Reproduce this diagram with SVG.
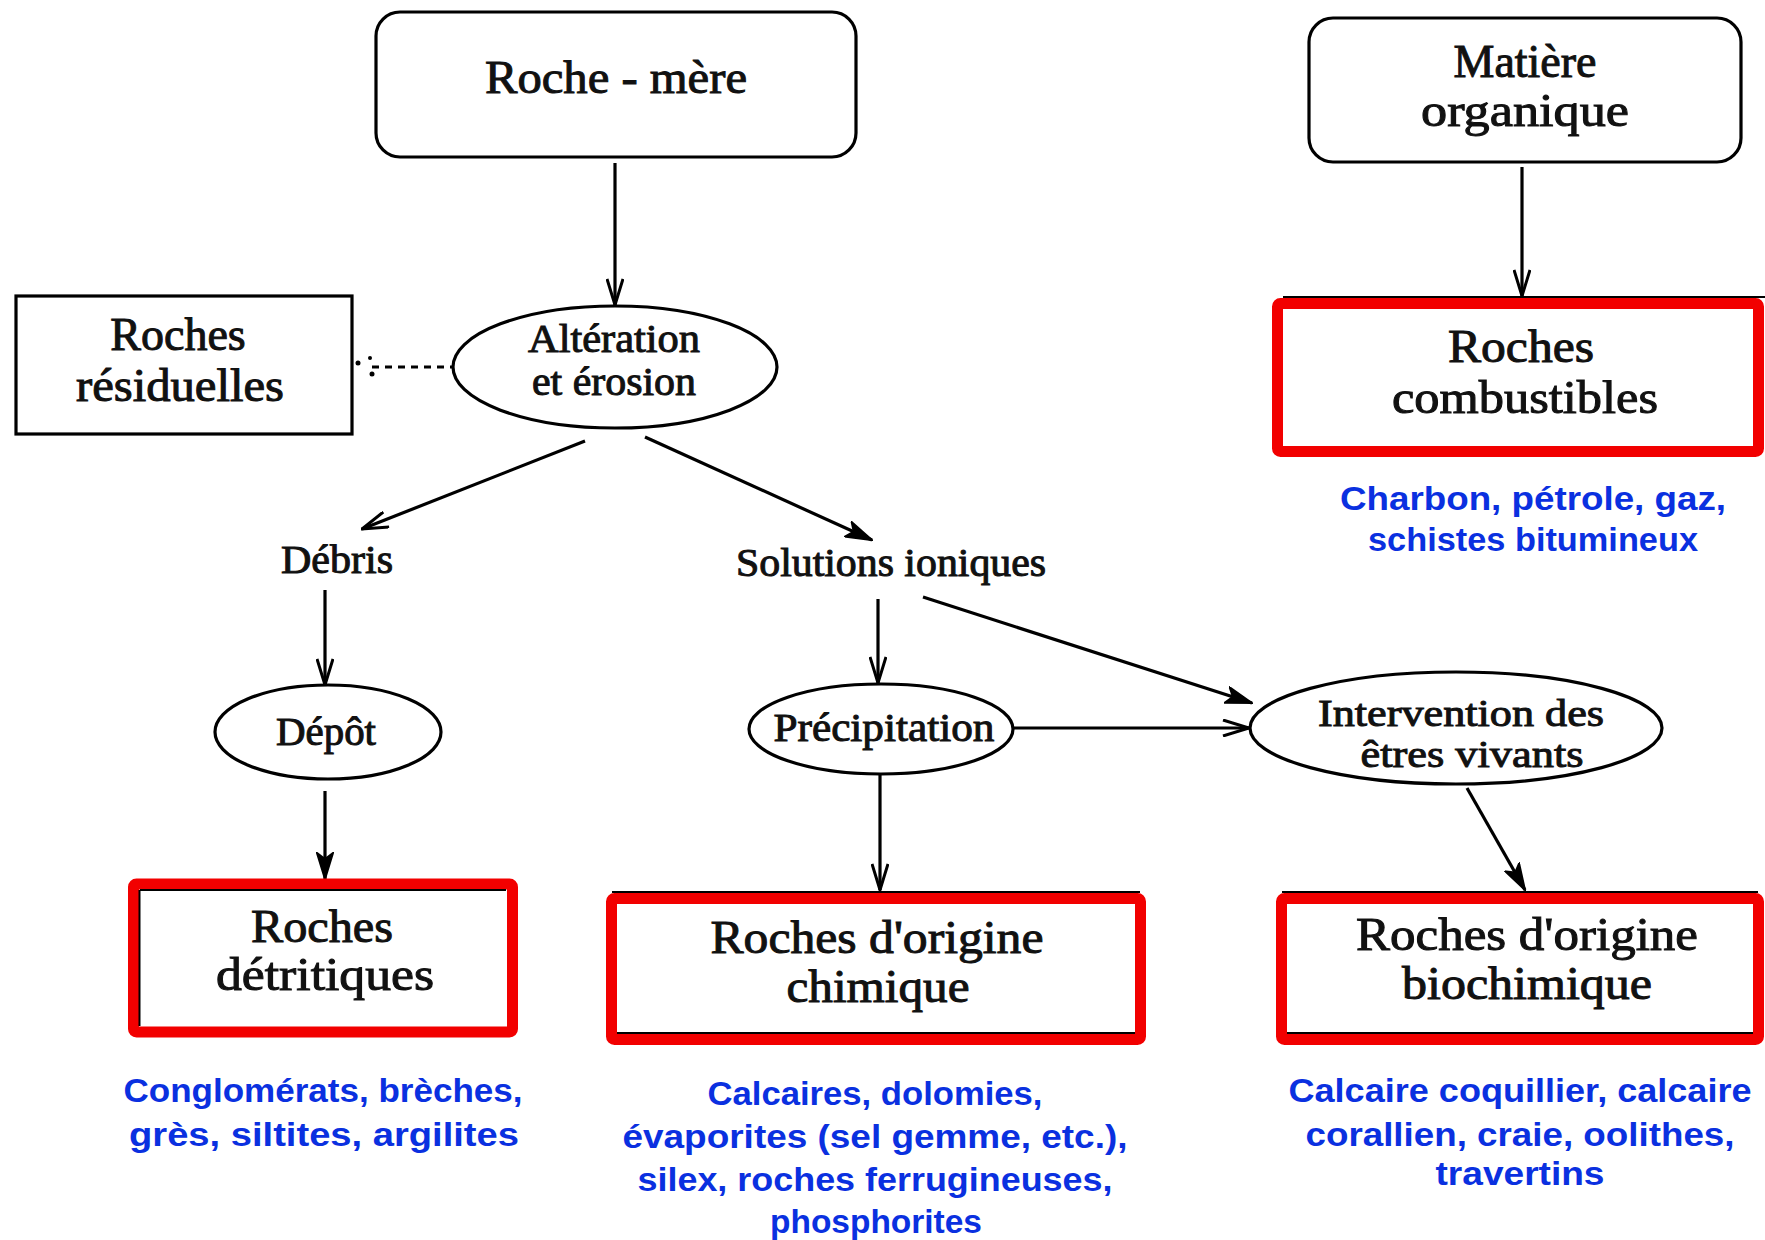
<svg xmlns="http://www.w3.org/2000/svg" width="1765" height="1240" viewBox="0 0 1765 1240">
<style>
.bx{fill:#fff;stroke:#000;stroke-width:3.2}
.el{fill:#fff;stroke:#000;stroke-width:3.2}
.red{fill:#fff;stroke:#f20000;stroke-width:11;stroke-linejoin:round}
.blk{stroke:#000;stroke-width:2;fill:none}
.t{font-family:"Liberation Serif","Times New Roman",serif;fill:#111;text-anchor:middle;stroke:#111;stroke-width:1}
.big{font-size:46px}
.sm{font-size:40px}
.bl{font-family:"Liberation Sans",Arial,sans-serif;font-weight:bold;font-size:33px;fill:#0a30e0;text-anchor:middle}
.ln{stroke:#000;stroke-width:3.2;fill:none}
</style>
<defs>
<marker id="v" viewBox="0 0 28 18" refX="27" refY="9" markerWidth="28" markerHeight="18" markerUnits="userSpaceOnUse" orient="auto">
<path d="M1,1 L27,9 L1,17" fill="none" stroke="#000" stroke-width="3"/>
</marker>
<marker id="f" viewBox="0 0 28 18" refX="27" refY="9" markerWidth="28" markerHeight="18" markerUnits="userSpaceOnUse" orient="auto">
<path d="M1,1 L27,9 L1,17 L7,9 Z" fill="#000" stroke="#000" stroke-width="2"/>
</marker>
</defs>
<rect width="1765" height="1240" fill="#fff"/>

<g id="connectors">
<line class="ln" x1="615" y1="163" x2="615" y2="305" marker-end="url(#v)"/>
<line class="ln" x1="1522" y1="167" x2="1522" y2="296" marker-end="url(#v)"/>
<line class="ln" x1="372" y1="367" x2="452" y2="367" stroke-dasharray="7 6"/>
<circle cx="358" cy="363" r="2.5" fill="#000"/>
<circle cx="370" cy="358" r="2" fill="#000"/>
<circle cx="372" cy="374" r="2.5" fill="#000"/>
<line class="ln" x1="585" y1="441" x2="362" y2="529" marker-end="url(#v)"/>
<line class="ln" x1="645" y1="437" x2="872" y2="540" marker-end="url(#f)"/>
<line class="ln" x1="325" y1="590" x2="325" y2="685" marker-end="url(#v)"/>
<line class="ln" x1="325" y1="791" x2="325" y2="879" marker-end="url(#f)"/>
<line class="ln" x1="878" y1="599" x2="878" y2="683" marker-end="url(#v)"/>
<line class="ln" x1="923" y1="597" x2="1252" y2="703" marker-end="url(#f)"/>
<line class="ln" x1="1013" y1="728" x2="1249" y2="728" marker-end="url(#v)"/>
<line class="ln" x1="880" y1="774" x2="880" y2="890" marker-end="url(#v)"/>
<line class="ln" x1="1467" y1="788" x2="1525" y2="890" marker-end="url(#f)"/>
</g>

<g id="roche-mere">
<rect class="bx" x="376" y="12" width="480" height="145" rx="24"/>
<text class="t big" x="616" y="93" textLength="262" lengthAdjust="spacingAndGlyphs">Roche - mère</text>
</g>

<g id="matiere-organique">
<rect class="bx" x="1309" y="18" width="432" height="144" rx="24"/>
<text class="t big" x="1525" y="77">Matière</text>
<text class="t big" x="1525" y="126" textLength="208" lengthAdjust="spacingAndGlyphs">organique</text>
</g>

<g id="roches-residuelles">
<rect class="bx" x="16" y="296" width="336" height="138"/>
<text class="t big" x="178" y="350">Roches</text>
<text class="t big" x="180" y="401" textLength="208" lengthAdjust="spacingAndGlyphs">résiduelles</text>
</g>

<g id="alteration">
<ellipse class="el" cx="615" cy="367" rx="162" ry="61"/>
<text class="t sm" x="614" y="352" textLength="172" lengthAdjust="spacingAndGlyphs">Altération</text>
<text class="t sm" x="614" y="395" textLength="164" lengthAdjust="spacingAndGlyphs">et érosion</text>
</g>

<g id="debris">
<text class="t sm" x="337" y="573" textLength="112" lengthAdjust="spacingAndGlyphs">Débris</text>
</g>

<g id="solutions">
<text class="t sm" x="891" y="576" textLength="310" lengthAdjust="spacingAndGlyphs">Solutions ioniques</text>
</g>

<g id="depot">
<ellipse class="el" cx="328" cy="732" rx="113" ry="47"/>
<text class="t sm" x="326" y="745" textLength="100" lengthAdjust="spacingAndGlyphs">Dépôt</text>
</g>

<g id="precipitation">
<ellipse class="el" cx="881" cy="729" rx="132" ry="45"/>
<text class="t sm" x="884" y="741" textLength="221" lengthAdjust="spacingAndGlyphs">Précipitation</text>
</g>

<g id="intervention">
<ellipse class="el" cx="1456" cy="728" rx="206" ry="56"/>
<text class="t" style="font-size:38px" x="1461" y="726" textLength="286" lengthAdjust="spacingAndGlyphs">Intervention des</text>
<text class="t" style="font-size:38px" x="1472" y="767" textLength="223" lengthAdjust="spacingAndGlyphs">êtres vivants</text>
</g>

<g id="roches-combustibles">
<rect class="red" x="1277.5" y="303.5" width="481" height="148" rx="3"/>
<line class="blk" x1="1283" y1="297" x2="1765" y2="297"/>
<text class="t big" x="1521" y="362" textLength="146" lengthAdjust="spacingAndGlyphs">Roches</text>
<text class="t big" x="1525" y="413" textLength="266" lengthAdjust="spacingAndGlyphs">combustibles</text>
<text class="bl" x="1533" y="510" textLength="386" lengthAdjust="spacingAndGlyphs">Charbon, pétrole, gaz,</text>
<text class="bl" x="1533" y="551" textLength="330" lengthAdjust="spacingAndGlyphs">schistes bitumineux</text>
</g>

<g id="roches-detritiques">
<rect class="red" x="133.5" y="884" width="379" height="148" rx="3"/>
<line class="blk" x1="140" y1="890" x2="506" y2="890"/>
<line class="blk" x1="139.5" y1="890" x2="139.5" y2="1026"/>
<text class="t big" x="322" y="942" textLength="142" lengthAdjust="spacingAndGlyphs">Roches</text>
<text class="t big" x="325" y="990" textLength="218" lengthAdjust="spacingAndGlyphs">détritiques</text>
<text class="bl" x="323" y="1102" textLength="399" lengthAdjust="spacingAndGlyphs">Conglomérats, brèches,</text>
<text class="bl" x="324" y="1146" textLength="390" lengthAdjust="spacingAndGlyphs">grès, siltites, argilites</text>
</g>

<g id="roches-chimique">
<rect class="red" x="611.5" y="898.5" width="529" height="141" rx="3"/>
<line class="blk" x1="612" y1="892" x2="1140" y2="892"/>
<line class="blk" x1="617" y1="1033" x2="1135" y2="1033"/>
<text class="t big" x="877" y="953" textLength="333" lengthAdjust="spacingAndGlyphs">Roches d'origine</text>
<text class="t big" x="878" y="1002" textLength="183" lengthAdjust="spacingAndGlyphs">chimique</text>
<text class="bl" x="875" y="1105" textLength="335" lengthAdjust="spacingAndGlyphs">Calcaires, dolomies,</text>
<text class="bl" x="875" y="1148" textLength="505" lengthAdjust="spacingAndGlyphs">évaporites (sel gemme, etc.),</text>
<text class="bl" x="875" y="1191" textLength="475" lengthAdjust="spacingAndGlyphs">silex, roches ferrugineuses,</text>
<text class="bl" x="876" y="1233" textLength="212" lengthAdjust="spacingAndGlyphs">phosphorites</text>
</g>

<g id="roches-biochimique">
<rect class="red" x="1281.5" y="898.5" width="477" height="141" rx="3"/>
<line class="blk" x1="1282" y1="892" x2="1758" y2="892"/>
<line class="blk" x1="1287" y1="1033" x2="1753" y2="1033"/>
<text class="t big" x="1527" y="950" textLength="342" lengthAdjust="spacingAndGlyphs">Roches d'origine</text>
<text class="t big" x="1527" y="999" textLength="250" lengthAdjust="spacingAndGlyphs">biochimique</text>
<text class="bl" x="1520" y="1102" textLength="463" lengthAdjust="spacingAndGlyphs">Calcaire coquillier, calcaire</text>
<text class="bl" x="1520" y="1146" textLength="429" lengthAdjust="spacingAndGlyphs">corallien, craie, oolithes,</text>
<text class="bl" x="1520" y="1185" textLength="169" lengthAdjust="spacingAndGlyphs">travertins</text>
</g>
</svg>
